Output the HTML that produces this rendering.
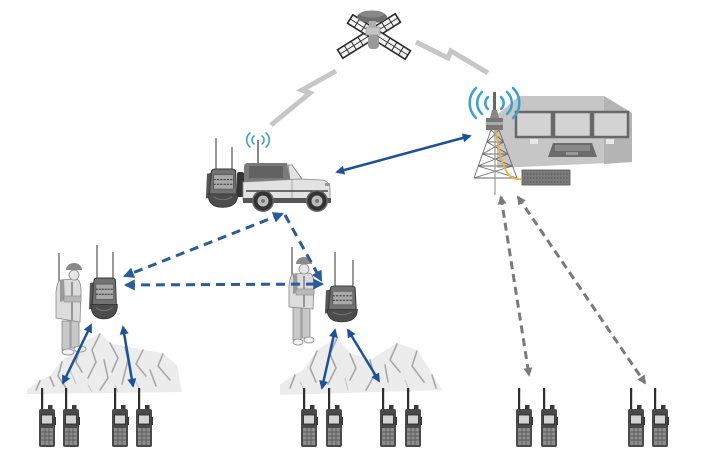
<!DOCTYPE html>
<html><head><meta charset="utf-8"><style>
html,body{margin:0;padding:0;background:#fff;}
svg{display:block;}
</style></head><body>
<svg width="705" height="463" viewBox="0 0 705 463" xmlns="http://www.w3.org/2000/svg">
<defs>
<marker id="ab" viewBox="0 0 10 10" refX="8" refY="5" markerWidth="10" markerHeight="9" markerUnits="userSpaceOnUse" orient="auto-start-reverse"><path d="M0 0 L10 5 L0 10 z" fill="#1d5396"/></marker>
<marker id="ad" viewBox="0 0 10 10" refX="8" refY="5" markerWidth="11" markerHeight="11" markerUnits="userSpaceOnUse" orient="auto-start-reverse"><path d="M0 0 L10 5 L0 10 z" fill="#2a5c9a"/></marker>
<marker id="ag" viewBox="0 0 10 10" refX="8" refY="5" markerWidth="10" markerHeight="9" markerUnits="userSpaceOnUse" orient="auto-start-reverse"><path d="M0 0 L10 5 L0 10 z" fill="#7a7a7a"/></marker>
<g id="radio">
  <rect x="2" y="-21" width="2.2" height="23" fill="#2e2e2e"/>
  <rect x="9" y="-4" width="4.5" height="5" fill="#3a3a3a"/>
  <rect x="0" y="0" width="16" height="38" rx="2" fill="#4a4a4a"/>
  <rect x="15" y="8" width="2" height="8" fill="#3a3a3a"/>
  <rect x="2.5" y="6" width="11" height="9" fill="#d4d4d4" stroke="#222" stroke-width="0.8"/>
  <rect x="2" y="19" width="12" height="17" fill="#8c8c8c"/>
  <g stroke="#555" stroke-width="0.8">
    <line x1="2" y1="23" x2="14" y2="23"/><line x1="2" y1="27" x2="14" y2="27"/><line x1="2" y1="31" x2="14" y2="31"/>
    <line x1="6" y1="19" x2="6" y2="36"/><line x1="10" y1="19" x2="10" y2="36"/>
  </g>
</g>
<g id="bp">
  <path d="M0 6 L4 5 L4 30 L-1 32 Z" fill="#555"/>
  <path d="M4 4 Q4 1 8 1 L22 1 Q26 1 26 4 L27 30 L2 30 Z" fill="#727272" stroke="#3a3a3a" stroke-width="1"/>
  <rect x="6" y="7" width="18" height="15" fill="#a9a9a9" stroke="#555" stroke-width="0.7"/>
  <line x1="6" y1="12" x2="24" y2="12" stroke="#444" stroke-width="1.2" stroke-dasharray="2 1"/>
  <line x1="6" y1="17" x2="24" y2="17" stroke="#444" stroke-width="1.2" stroke-dasharray="2 1"/>
  <path d="M1 27 Q1 41 14 41 Q28 41 28 27 Z" fill="#4c4c4c" stroke="#333" stroke-width="0.8"/>
  <path d="M6 30 Q14 36 23 30" fill="none" stroke="#777" stroke-width="1"/>
</g>
<g id="panel">
  <rect x="-5" y="-34" width="10" height="68" fill="#f4f4f4" stroke="#2a2a2a" stroke-width="1.6"/>
  <line x1="0" y1="-34" x2="0" y2="34" stroke="#2a2a2a" stroke-width="0.8"/>
  <g stroke="#2a2a2a" stroke-width="1">
    <line x1="-5" y1="-26" x2="5" y2="-26"/><line x1="-5" y1="-18" x2="5" y2="-18"/><line x1="-5" y1="-10" x2="5" y2="-10"/>
    <line x1="-5" y1="10" x2="5" y2="10"/><line x1="-5" y1="18" x2="5" y2="18"/><line x1="-5" y1="26" x2="5" y2="26"/>
  </g>
</g>
</defs>

<!-- mountains left -->
<g>
<path d="M27 390 L40 380 L50 376 L62 360 L75 352 L88 340 L100 333 L110 343 L125 346 L143 350 L163 353 L177 365 L182 392 L27 394 Z" fill="#ececec"/>
<g stroke="#a8a8a8" stroke-width="1.6" fill="none" stroke-linecap="round" stroke-linejoin="round">
<path d="M100 334 L92 350 L96 362 L88 378"/>
<path d="M110 343 L118 358 L112 372"/>
<path d="M143 350 L136 364 L146 376"/>
<path d="M163 354 L158 366 L170 380"/>
<path d="M62 362 L58 376 L66 388"/>
<path d="M80 348 L76 362 L82 372"/>
<path d="M125 347 L128 360 L122 384"/>
<path d="M40 381 L36 390"/>
<path d="M50 377 L54 386"/>
<path d="M150 370 L156 386"/>
<path d="M104 360 L108 378 L100 390"/>
</g>
<g stroke="#c8c8c8" stroke-width="1.2" fill="none">
<path d="M70 370 L76 384"/><path d="M135 380 L140 390"/><path d="M115 385 L118 392"/><path d="M88 385 L92 392"/>
</g>
</g>
<!-- mountains right -->
<g>
<path d="M280 384 L303 370 L317 350 L337 337 L350 353 L370 360 L397 343 L417 350 L430 370 L442 390 L280 395 Z" fill="#ececec"/>
<g stroke="#a8a8a8" stroke-width="1.6" fill="none" stroke-linecap="round" stroke-linejoin="round">
<path d="M337 338 L330 354 L336 368 L328 384"/>
<path d="M350 354 L356 368 L350 380"/>
<path d="M397 344 L390 360 L400 372"/>
<path d="M417 351 L412 366 L424 382"/>
<path d="M317 351 L310 368 L316 382"/>
<path d="M370 360 L374 376 L366 390"/>
<path d="M295 375 L290 388"/>
<path d="M385 365 L388 382"/>
<path d="M432 375 L436 388"/>
</g>
<g stroke="#c8c8c8" stroke-width="1.2" fill="none">
<path d="M300 382 L305 392"/><path d="M345 378 L348 390"/><path d="M405 380 L410 392"/>
</g>
</g>

<!-- lightning bolts -->
<polyline points="336,71 302,90 310,93 271,125" fill="none" stroke="#c6c6c6" stroke-width="5" stroke-linejoin="miter"/>
<polyline points="416,42 448,58 451,51 488,73" fill="none" stroke="#c6c6c6" stroke-width="5" stroke-linejoin="miter"/>

<!-- satellite -->
<g>
  <use href="#panel" transform="translate(369,36) rotate(58)"/>
  <use href="#panel" transform="translate(379,37) rotate(-58)"/>
  <ellipse cx="372" cy="17" rx="15" ry="6" fill="#6e6e6e"/>
  <ellipse cx="372" cy="14" rx="12" ry="3.5" fill="#888"/>
  <rect x="369" y="21" width="7" height="6" fill="#b0b0b0"/>
  <rect x="366" y="27" width="14" height="8" fill="#c4c4c4" stroke="#999" stroke-width="0.8"/>
  <rect x="368" y="35" width="11" height="14" rx="4" fill="#9a9a9a"/>
</g>

<!-- shelter building -->
<polygon points="497,115 519,96 604,96 632,113 632,162 497,168" fill="#c6c6c6"/>
<polygon points="604,96 632,113 632,162 604,164" fill="#b4b4b4"/>
<!-- monitors -->
<g stroke="#686868" stroke-width="2.5">
  <rect x="516" y="112" width="36" height="25" fill="#d3d3d3"/>
  <rect x="554" y="112" width="37" height="25" fill="#d3d3d3"/>
  <rect x="593" y="112" width="35" height="25" fill="#d3d3d3"/>
</g>
<rect x="530" y="139" width="8" height="5" fill="#e8e8e8"/>
<rect x="606" y="139" width="8" height="5" fill="#e8e8e8"/>
<polygon points="553,143 592,143 597,157 548,157" fill="#6c6c6c"/>
<rect x="555" y="145" width="35" height="6" fill="#8a8a8a"/>
<rect x="566" y="152" width="12" height="3" fill="#999"/>

<!-- rack -->
<rect x="522" y="170" width="48" height="15" fill="#7a7a7a" stroke="#555" stroke-width="0.8"/>
<g stroke="#4a4a4a" stroke-width="0.8" stroke-dasharray="1.5 1.5">
  <line x1="524" y1="174" x2="568" y2="174"/><line x1="524" y1="178" x2="568" y2="178"/><line x1="524" y1="182" x2="568" y2="182"/>
</g>

<!-- tower -->
<g stroke="#6a6a6a" stroke-width="0.9" fill="none">
  <line x1="491" y1="130" x2="474" y2="178"/>
  <line x1="499" y1="130" x2="517" y2="178"/>
  <line x1="487" y1="142" x2="503.5" y2="142"/>
  <line x1="482.5" y1="154" x2="508" y2="154"/>
  <line x1="478" y1="166" x2="512.5" y2="166"/>
  <line x1="474" y1="178" x2="517" y2="178"/>
  <line x1="491" y1="130" x2="503.5" y2="142"/><line x1="499" y1="130" x2="487" y2="142"/>
  <line x1="487" y1="142" x2="508" y2="154"/><line x1="503.5" y1="142" x2="482.5" y2="154"/>
  <line x1="482.5" y1="154" x2="512.5" y2="166"/><line x1="508" y1="154" x2="478" y2="166"/>
  <line x1="478" y1="166" x2="517" y2="178"/><line x1="512.5" y1="166" x2="474" y2="178"/>
</g>
<line x1="495" y1="130" x2="495" y2="195" stroke="#999" stroke-width="1.2"/>
<path d="M496 130 Q499 160 508 174 Q513 180 522 179" fill="none" stroke="#e8b04a" stroke-width="1.8"/>
<rect x="493" y="92" width="3" height="27" fill="#666"/>
<polygon points="490,118 499,118 497,110 492,110" fill="#888"/>
<rect x="486" y="118" width="17" height="12" fill="#777"/>
<rect x="486" y="122" width="17" height="3" fill="#aaa"/>
<!-- tower wifi -->
<g fill="none" stroke="#3aa0cf" stroke-width="2.5" stroke-linecap="round">
  <path d="M488 97 A8 8 0 0 0 488 109"/><path d="M501 97 A8 8 0 0 1 501 109"/>
  <path d="M482 92 A15 15 0 0 0 482 114"/><path d="M507 92 A15 15 0 0 1 507 114"/>
  <path d="M476 88 A21 21 0 0 0 476 118"/><path d="M513 88 A21 21 0 0 1 513 118"/>
</g>

<!-- vehicle backpack -->
<line x1="216" y1="138" x2="216" y2="170" stroke="#555" stroke-width="1.2"/>
<line x1="232" y1="147" x2="232" y2="170" stroke="#555" stroke-width="1.2"/>
<use href="#bp" transform="translate(207,168) scale(1.1,0.96)"/>

<!-- car -->
<g>
  <line x1="258" y1="140" x2="258" y2="164" stroke="#555" stroke-width="1.4"/>
  <g fill="none" stroke="#3aa0cf" stroke-width="1.6" stroke-linecap="round">
    <path d="M254 136 A5 5 0 0 0 254 144"/><path d="M262 136 A5 5 0 0 1 262 144"/>
    <path d="M250 133 A9 9 0 0 0 250 147"/><path d="M266 133 A9 9 0 0 1 266 147"/>
  </g>
  <rect x="237" y="172" width="7" height="25" rx="2" fill="#333"/>
  <path d="M244 167 Q244 163 248 163 L287 163 L290 181 L244 183 Z" fill="#7a7a7a"/>
  <rect x="249" y="166" width="34" height="12" fill="#626262"/>
  <path d="M288 165 L292 165 L302 179 L290 180 Z" fill="#e2e2e2" stroke="#777" stroke-width="0.8"/>
  <path d="M243 182 L300 179 L322 180 Q329 181 330 188 L330 200 L243 200 Z" fill="#e2e2e2" stroke="#888" stroke-width="0.8"/>
  <line x1="292" y1="180" x2="292" y2="198" stroke="#999" stroke-width="0.8"/>
  <line x1="246" y1="191" x2="328" y2="191" stroke="#444" stroke-width="1.5"/>
  <rect x="243" y="198" width="88" height="5" fill="#555"/>
  <rect x="325" y="183" width="5" height="3" fill="#999"/>
  <circle cx="263" cy="201" r="11" fill="#666"/>
  <circle cx="317" cy="201" r="11" fill="#666"/>
  <circle cx="263" cy="201" r="9.5" fill="#333"/>
  <circle cx="317" cy="201" r="9.5" fill="#333"/>
  <circle cx="263" cy="201" r="5.5" fill="#bcbcbc"/>
  <circle cx="317" cy="201" r="5.5" fill="#bcbcbc"/>
  <circle cx="263" cy="201" r="2" fill="#777"/>
  <circle cx="317" cy="201" r="2" fill="#777"/>
</g>

<!-- left person -->
<g>
  <line x1="59" y1="253" x2="59" y2="283" stroke="#555" stroke-width="1.2"/>
  <rect x="62" y="321" width="8" height="29" fill="#c8c8c8" stroke="#888" stroke-width="0.8"/>
  <rect x="71" y="321" width="8" height="27" fill="#c8c8c8" stroke="#888" stroke-width="0.8"/>
  <ellipse cx="68" cy="352" rx="6" ry="3" fill="#f2f2f2" stroke="#888" stroke-width="0.8"/>
  <ellipse cx="80" cy="349" rx="6" ry="3" fill="#f2f2f2" stroke="#888" stroke-width="0.8"/>
  <path d="M60 280 Q57 282 56 292 L56 318 L80 322 L81 292 Q81 281 77 279 Z" fill="#dcdcdc" stroke="#888" stroke-width="0.8"/>
  <path d="M60 280 L64 279 L65 300 L60 302 Z" fill="#999"/>
  <line x1="72" y1="282" x2="72" y2="320" stroke="#555" stroke-width="1"/>
  <rect x="64" y="296" width="17" height="6" fill="#b8b8b8" stroke="#888" stroke-width="0.6"/>
  <circle cx="74" cy="275" r="5" fill="#e6e6e6" stroke="#888" stroke-width="0.8"/>
  <path d="M66 270 A8 7 0 0 1 82 270 Z" fill="#8a8a8a"/>
</g>
<!-- left backpack -->
<line x1="97" y1="245" x2="97" y2="280" stroke="#555" stroke-width="1.2"/>
<line x1="113" y1="252" x2="113" y2="280" stroke="#555" stroke-width="1.2"/>
<use href="#bp" transform="translate(90,277) scale(0.98,1.02)"/>

<!-- right person -->
<g>
  <line x1="292" y1="247" x2="292" y2="277" stroke="#555" stroke-width="1.2"/>
  <rect x="293" y="307" width="8" height="33" fill="#c8c8c8" stroke="#888" stroke-width="0.8"/>
  <rect x="302" y="307" width="8" height="31" fill="#c8c8c8" stroke="#888" stroke-width="0.8"/>
  <ellipse cx="298" cy="342" rx="5" ry="3" fill="#f2f2f2" stroke="#888" stroke-width="0.8"/>
  <ellipse cx="309" cy="340" rx="5" ry="3" fill="#f2f2f2" stroke="#888" stroke-width="0.8"/>
  <path d="M293 274 Q290 276 289 286 L289 307 L313 309 L314 286 Q314 275 310 273 Z" fill="#dcdcdc" stroke="#888" stroke-width="0.8"/>
  <path d="M293 274 L297 273 L298 292 L293 294 Z" fill="#999"/>
  <line x1="304" y1="276" x2="304" y2="307" stroke="#555" stroke-width="1"/>
  <rect x="296" y="289" width="18" height="6" fill="#b8b8b8" stroke="#888" stroke-width="0.6"/>
  <circle cx="304" cy="269" r="5" fill="#e6e6e6" stroke="#888" stroke-width="0.8"/>
  <path d="M296 264 A8 7 0 0 1 312 264 Z" fill="#8a8a8a"/>
  <circle cx="310" cy="262" r="1.5" fill="#e8a040"/>
</g>
<!-- right backpack -->
<line x1="335" y1="252" x2="335" y2="288" stroke="#555" stroke-width="1.2"/>
<line x1="353" y1="260" x2="353" y2="288" stroke="#555" stroke-width="1.2"/>
<use href="#bp" transform="translate(326,285) scale(1.12,0.9)"/>

<!-- radios -->
<use href="#radio" transform="translate(39,409)"/>
<use href="#radio" transform="translate(63,409)"/>
<use href="#radio" transform="translate(112,409)"/>
<use href="#radio" transform="translate(136,409)"/>
<use href="#radio" transform="translate(301,409)"/>
<use href="#radio" transform="translate(326,409)"/>
<use href="#radio" transform="translate(380,409)"/>
<use href="#radio" transform="translate(405,409)"/>
<use href="#radio" transform="translate(516,409)"/>
<use href="#radio" transform="translate(541,409)"/>
<use href="#radio" transform="translate(628,409)"/>
<use href="#radio" transform="translate(652,409)"/>

<!-- blue dashed links -->
<g stroke="#2a5c9a" stroke-width="3" stroke-dasharray="9 6" fill="none">
  <line x1="282" y1="214" x2="125" y2="276" marker-start="url(#ad)" marker-end="url(#ad)"/>
  <line x1="285" y1="215" x2="321" y2="280" marker-end="url(#ad)"/>
  <line x1="126" y1="285" x2="322" y2="284" marker-start="url(#ad)" marker-end="url(#ad)"/>
</g>

<!-- blue solid links -->
<g stroke="#1d5396" stroke-width="2.5" fill="none">
  <line x1="337" y1="172" x2="470" y2="136" marker-start="url(#ab)" marker-end="url(#ab)"/>
  <line x1="91" y1="325" x2="63" y2="383" marker-start="url(#ab)" marker-end="url(#ab)"/>
  <line x1="123" y1="327" x2="133" y2="386" marker-start="url(#ab)" marker-end="url(#ab)"/>
  <line x1="335" y1="330" x2="322" y2="388" marker-start="url(#ab)" marker-end="url(#ab)"/>
  <line x1="348" y1="330" x2="379" y2="381" marker-start="url(#ab)" marker-end="url(#ab)"/>
</g>

<!-- gray dashed links -->
<g stroke="#7a7a7a" stroke-width="3" stroke-dasharray="8 5" fill="none">
  <line x1="501" y1="197" x2="529" y2="375" marker-start="url(#ag)" marker-end="url(#ag)"/>
  <line x1="518" y1="197" x2="645" y2="383" marker-start="url(#ag)" marker-end="url(#ag)"/>
</g>
</svg>
</body></html>
